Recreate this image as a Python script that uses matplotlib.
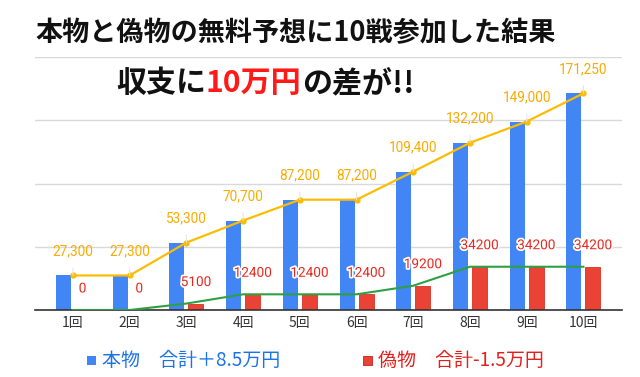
import matplotlib
matplotlib.use("Agg")
import matplotlib.pyplot as plt
import matplotlib.patheffects as pe
from matplotlib.patches import Rectangle

plt.rcParams['font.family'] = ['Noto Sans CJK JP', 'DejaVu Sans']

categories = ['1回', '2回', '3回', '4回', '5回', '6回', '7回', '8回', '9回', '10回']
real_values = [27300, 27300, 53300, 70700, 87200, 87200, 109400, 132200, 149000, 171250]
fake_values = [0, 0, 5100, 12400, 12400, 12400, 19200, 34200, 34200, 34200]

title = '本物と偽物の無料予想に10戦参加した結果'
sub_parts = [('収支に', '#111111'), ('10万円', '#FF1A1A'), ('の差が!!', '#111111')]
legend_real = '本物　合計＋8.5万円'
legend_fake = '偽物　合計-1.5万円'

BLUE = '#4285F4'
RED = '#EA4335'
ORANGE = '#FBBC04'
ORANGE_TXT = '#F9AB00'
GREEN = '#2EA043'

W, H = 640, 377
fig = plt.figure(figsize=(W / 100, H / 100), dpi=100)
ax = fig.add_axes([35 / W, 67 / H, 587 / W, 253 / H])

x = list(range(len(categories)))
bw = 0.265
off = 0.168
ax.bar([i - off for i in x], real_values, width=bw, color=BLUE, zorder=2)
ax.bar([i + off for i in x], fake_values, width=bw, color=RED, edgecolor='#D93025', linewidth=0.6, zorder=2)
ax.plot(x, real_values, color=ORANGE, lw=1.6, marker='o', ms=3.5, zorder=4)
ax.plot(x, fake_values, color=GREEN, lw=1.5, zorder=4)

for i, v in enumerate(real_values):
    ax.annotate(f'{v:,}', xy=(i, v), xytext=(0, 17.5), textcoords='offset points',
                ha='center', va='center', fontsize=9.8, color=ORANGE_TXT, family=['Roboto', 'DejaVu Sans'],
                arrowprops=dict(arrowstyle='-', color='#e6e6e6', lw=0.8, shrinkA=5, shrinkB=0), zorder=5)
for i, v in enumerate(fake_values):
    ax.annotate(f'{v}', xy=(i + off, v), xytext=(0, 15.5), textcoords='offset points',
                ha='center', va='center', fontsize=9.8, color='#E8281E', family=['Roboto', 'DejaVu Sans'],
                path_effects=[pe.withStroke(linewidth=2.5, foreground='white')], zorder=6)

ax.set_xlim(-0.67, 9.68)
ax.set_ylim(0, 200000)
ax.set_yticks([0, 50000, 100000, 150000, 200000])
ax.set_yticklabels([])
ax.tick_params(axis='y', length=0)
ax.grid(axis='y', color='#d9d9d9', lw=1, zorder=0)
ax.set_axisbelow(True)
ax.set_xticks(x)
ax.set_xticklabels(categories, fontsize=10, color='#333333')
ax.tick_params(axis='x', length=0, pad=4)
for s in ['top', 'right', 'left']:
    ax.spines[s].set_visible(False)
ax.spines['bottom'].set_color('#333333')
ax.spines['bottom'].set_linewidth(1.2)
ax.spines['bottom'].set_zorder(3)

fig.text(35 / W, 1 - 33 / H, title, ha='left', va='center', fontsize=19.5, weight='bold', color='#111111')

fig.canvas.draw()
renderer = fig.canvas.get_renderer()
xpos = 116
for txt, col in sub_parts:
    t = fig.text(xpos / W, 1 - 83 / H, txt, ha='left', va='center', fontsize=21.6, weight='bold', color=col)
    bb = t.get_window_extent(renderer)
    xpos += bb.width

fig.patches.append(Rectangle((87 / W, 1 - 364.5 / H), 9 / W, 9 / H, transform=fig.transFigure,
                             facecolor=BLUE, edgecolor='none'))
fig.text(102 / W, 1 - 360 / H, legend_real, ha='left', va='center', fontsize=13.7, color='#1A73E8')
fig.patches.append(Rectangle((363 / W, 1 - 364.5 / H), 9 / W, 9 / H, transform=fig.transFigure,
                             facecolor=RED, edgecolor='#C5221F', lw=0.6))
fig.text(378 / W, 1 - 360 / H, legend_fake, ha='left', va='center', fontsize=13.7, color='#E3201B')

fig.savefig('out.png', dpi=100)
